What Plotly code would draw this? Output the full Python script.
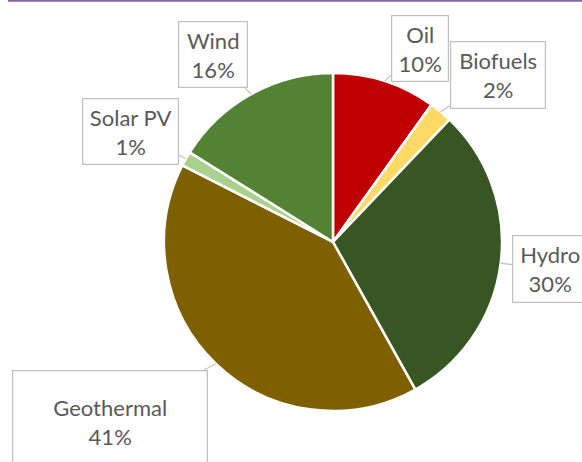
import math
import plotly.graph_objects as go

# Data
labels = ["Oil", "Biofuels", "Hydro", "Geothermal", "Solar PV", "Wind"]
values = [9.9, 2.2, 29.8, 40.6, 1.4, 16.1]
colors = ["#C00000", "#FFD966", "#375623", "#7F6000", "#A9D18E", "#548235"]

W, H = 582, 462
# pie geometry (pixels)
cx, cy, r = 333, 242, 169
dom_x = [(cx - r) / W, (cx + r) / W]
dom_y = [1 - (cy + r) / H, 1 - (cy - r) / H]

# label box layout: offset of box centre from tip (px), box size (px)
box_offsets = {
    "Oil": (35, -33, 56, 65),
    "Biofuels": (57, -37, 94, 66),
    "Hydro": (49, 6, 74, 66),
    "Geothermal": (-106, 58, 194, 102),
    "Solar PV": (-55, -27, 95, 65),
    "Wind": (-38, -40, 68, 65),
}

fig = go.Figure(go.Pie(
    labels=labels, values=values, sort=False, direction="clockwise", rotation=0,
    marker=dict(colors=colors, line=dict(color="white", width=2.5)),
    textinfo="none", hoverinfo="label+percent", showlegend=False,
    domain=dict(x=dom_x, y=dom_y),
))

total = sum(values)
cum = 0
annotations = []
for lab, v in zip(labels, values):
    mid = (cum + v / 2) / total * 2 * math.pi
    cum += v
    tx = cx + r * math.sin(mid)
    ty = cy - r * math.cos(mid)
    ax, ay, bw, bh = box_offsets[lab]
    pct = round(v / total * 100)
    annotations.append(dict(
        x=tx / W, y=1 - ty / H, xref="paper", yref="paper",
        text=f"{lab}<br>{pct}%", showarrow=True, ax=ax, ay=ay,
        arrowhead=0, arrowcolor="#BFBFBF", arrowwidth=1.2, standoff=0,
        bordercolor="#BFBFBF", borderwidth=1.2, borderpad=0, bgcolor="white",
        width=bw, height=bh, align="center", valign="middle",
        font=dict(family="Lato", size=22, color="#595959"),
    ))

fig.update_layout(
    width=W, height=H, margin=dict(l=0, r=0, t=0, b=0),
    paper_bgcolor="white", plot_bgcolor="white",
    annotations=annotations,
    shapes=[dict(type="line", xref="paper", yref="paper", x0=8 / W, x1=1,
                 y0=1 - 0.8 / H, y1=1 - 0.8 / H,
                 line=dict(color="#8064A2", width=2))],
)

fig.write_html("out.html")
